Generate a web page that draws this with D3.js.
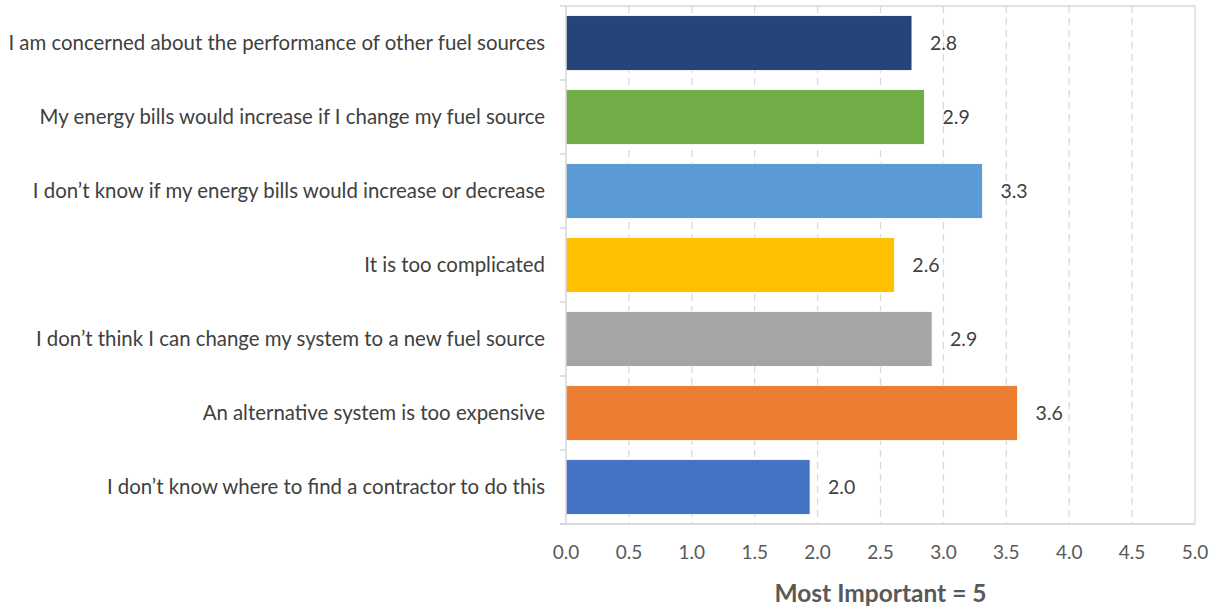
<!DOCTYPE html>
<html>
<head>
<meta charset="utf-8">
<script src="https://cdn.jsdelivr.net/npm/d3@7"></script>
<style>
  body { margin: 0; background: #fff; }
  svg { display: block; font-family: Lato, "Open Sans", sans-serif; }
</style>
</head>
<body>
<svg id="chart" width="1217" height="612"></svg>
<script>
const categories = [
  'I am concerned about the performance of other fuel sources',
  'My energy bills would increase if I change my fuel source',
  'I don\u2019t know if my energy bills would increase or decrease',
  'It is too complicated',
  'I don\u2019t think I can change my system to a new fuel source',
  'An alternative system is too expensive',
  'I don\u2019t know where to find a contractor to do this'
]
const values = [2.75, 2.85, 3.31, 2.61, 2.91, 3.59, 1.94]
const valueLabels = ['2.8', '2.9', '3.3', '2.6', '2.9', '3.6', '2.0']
const colors = ['#264478', '#70AD47', '#5B9BD5', '#FFC000', '#A5A5A5', '#ED7D31', '#4472C4']
const xTicks = [0, 0.5, 1, 1.5, 2, 2.5, 3, 3.5, 4, 4.5, 5]
const axisTitle = 'Most Important = 5'

const svg = d3.select('#chart')
const plotLeft = 566, plotRight = 1195, plotTop = 6, plotBottom = 524

const x = d3.scaleLinear().domain([0, 5]).range([plotLeft, plotRight])
const y = d3.scaleBand().domain(categories).range([plotTop, plotBottom]).paddingInner(0.26).paddingOuter(0.13)

// dashed vertical gridlines
svg.append('g')
    .selectAll('line')
    .data(xTicks.slice(1, -1))
    .join('line')
    .attr('x1', d => x(d)).attr('x2', d => x(d))
    .attr('y1', plotTop).attr('y2', plotBottom)
    .attr('stroke', '#d9d9d9')
    .attr('stroke-width', 1.3)
    .attr('stroke-dasharray', '7,5')

// plot border (top and right)
svg.append('path')
    .attr('d', `M${plotLeft},${plotTop}H${plotRight}V${plotBottom}`)
    .attr('fill', 'none')
    .attr('stroke', '#d9d9d9')
    .attr('stroke-width', 1.3)

// bars
svg.append('g')
    .selectAll('rect')
    .data(values)
    .join('rect')
    .attr('x', x(0))
    .attr('y', (d, i) => y(categories[i]))
    .attr('width', d => x(d) - x(0))
    .attr('height', y.bandwidth())
    .attr('fill', (d, i) => colors[i])
    .attr('stroke', '#fff')
    .attr('stroke-width', 0.8)

// value labels
svg.append('g')
    .selectAll('text')
    .data(values)
    .join('text')
    .attr('x', d => x(d) + 18)
    .attr('y', (d, i) => y(categories[i]) + y.bandwidth() / 2)
    .attr('dy', '0.35em')
    .attr('font-size', 19.5)
    .attr('fill', '#404040')
    .text((d, i) => valueLabels[i])

// left axis
const yAxis = svg.append('g')
yAxis.append('line')
    .attr('x1', plotLeft).attr('x2', plotLeft)
    .attr('y1', plotTop).attr('y2', plotBottom)
    .attr('stroke', '#d0d0d0').attr('stroke-width', 1.3)
const boundaries = d3.range(categories.length + 1).map(i => plotTop + i * y.step())
yAxis.selectAll('.tick')
    .data(boundaries)
    .join('line')
    .attr('x1', plotLeft - 6).attr('x2', plotLeft)
    .attr('y1', d => d).attr('y2', d => d)
    .attr('stroke', '#d0d0d0').attr('stroke-width', 1.3)
yAxis.selectAll('text')
    .data(categories)
    .join('text')
    .attr('x', 545)
    .attr('y', d => y(d) + y.bandwidth() / 2)
    .attr('dy', '0.35em')
    .attr('text-anchor', 'end')
    .attr('font-size', 20.4)
    .attr('fill', '#404040')
    .text(d => d)

// bottom axis
const xAxis = svg.append('g').attr('transform', `translate(0,${plotBottom})`)
xAxis.append('line')
    .attr('x1', plotLeft - 6).attr('x2', plotRight)
    .attr('stroke', '#d0d0d0').attr('stroke-width', 1.3)
xAxis.selectAll('text')
    .data(xTicks)
    .join('text')
    .attr('x', d => x(d))
    .attr('y', 28)
    .attr('dy', '0.35em')
    .attr('text-anchor', 'middle')
    .attr('font-size', 19)
    .attr('fill', '#595959')
    .text(d => d3.format('.1f')(d))

svg.append('text')
    .attr('x', (plotLeft + plotRight) / 2)
    .attr('y', 593)
    .attr('dy', '0.35em')
    .attr('text-anchor', 'middle')
    .attr('font-size', 24.5)
    .attr('font-weight', 'bold')
    .attr('fill', '#595959')
    .text(axisTitle)
</script>
</body>
</html>
